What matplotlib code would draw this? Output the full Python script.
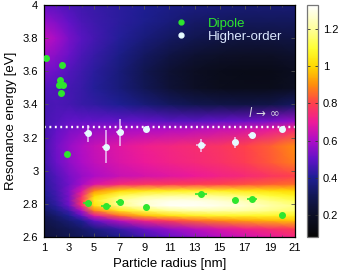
import numpy as np
import matplotlib
matplotlib.use("Agg")
import matplotlib.pyplot as plt
from matplotlib.colors import LinearSegmentedColormap
from matplotlib.lines import Line2D
from matplotlib.ticker import MultipleLocator

plt.rcParams['font.family'] = ['Liberation Sans', 'DejaVu Sans']

# radius columns [nm] and energy rows [eV] of the loss map
radii = [1, 2, 3, 4, 5, 7, 9, 11, 13, 15, 17, 19, 21]
energies = [2.60, 2.65, 2.70, 2.73, 2.76, 2.79, 2.82, 2.85, 2.88, 2.92, 2.97,
            3.05, 3.15, 3.25, 3.30, 3.40, 3.50, 3.60, 3.70, 3.80, 3.90, 4.00]
loss_map = [
    [0.25, 0.27, 0.29, 0.31, 0.33, 0.38, 0.45, 0.50, 0.56, 0.61, 0.65, 0.69, 0.73],
    [0.26, 0.28, 0.30, 0.33, 0.37, 0.44, 0.51, 0.57, 0.62, 0.67, 0.71, 0.75, 0.79],
    [0.28, 0.31, 0.35, 0.40, 0.50, 0.62, 0.72, 0.79, 0.85, 0.89, 0.92, 0.95, 0.97],
    [0.30, 0.34, 0.40, 0.50, 0.68, 0.85, 0.96, 1.02, 1.06, 1.08, 1.08, 1.08, 1.07],
    [0.33, 0.38, 0.45, 0.60, 0.88, 1.04, 1.13, 1.19, 1.22, 1.22, 1.21, 1.18, 1.15],
    [0.36, 0.42, 0.51, 0.74, 1.02, 1.18, 1.27, 1.32, 1.32, 1.30, 1.27, 1.22, 1.18],
    [0.38, 0.44, 0.53, 0.78, 1.06, 1.20, 1.27, 1.30, 1.30, 1.27, 1.23, 1.18, 1.13],
    [0.40, 0.45, 0.53, 0.74, 1.00, 1.13, 1.18, 1.20, 1.20, 1.18, 1.15, 1.11, 1.07],
    [0.41, 0.46, 0.54, 0.68, 0.90, 1.00, 1.04, 1.06, 1.07, 1.06, 1.04, 1.02, 1.00],
    [0.42, 0.47, 0.52, 0.59, 0.67, 0.74, 0.77, 0.78, 0.79, 0.80, 0.82, 0.84, 0.86],
    [0.43, 0.48, 0.53, 0.57, 0.60, 0.64, 0.66, 0.68, 0.70, 0.72, 0.74, 0.77, 0.80],
    [0.45, 0.51, 0.56, 0.60, 0.63, 0.67, 0.70, 0.72, 0.74, 0.76, 0.79, 0.83, 0.88],
    [0.46, 0.52, 0.57, 0.61, 0.64, 0.68, 0.71, 0.73, 0.75, 0.77, 0.80, 0.84, 0.90],
    [0.46, 0.50, 0.53, 0.55, 0.57, 0.59, 0.60, 0.61, 0.62, 0.64, 0.66, 0.69, 0.74],
    [0.46, 0.48, 0.50, 0.50, 0.50, 0.50, 0.50, 0.49, 0.49, 0.50, 0.51, 0.53, 0.57],
    [0.46, 0.47, 0.46, 0.44, 0.43, 0.40, 0.36, 0.32, 0.29, 0.28, 0.27, 0.28, 0.32],
    [0.48, 0.48, 0.46, 0.44, 0.41, 0.36, 0.30, 0.24, 0.20, 0.17, 0.16, 0.16, 0.19],
    [0.53, 0.51, 0.48, 0.45, 0.42, 0.36, 0.29, 0.23, 0.19, 0.16, 0.15, 0.15, 0.18],
    [0.58, 0.55, 0.51, 0.47, 0.44, 0.38, 0.32, 0.27, 0.23, 0.21, 0.20, 0.20, 0.22],
    [0.63, 0.59, 0.53, 0.49, 0.46, 0.41, 0.36, 0.32, 0.29, 0.27, 0.26, 0.26, 0.27],
    [0.57, 0.54, 0.50, 0.47, 0.45, 0.42, 0.39, 0.36, 0.33, 0.32, 0.31, 0.31, 0.31],
    [0.50, 0.49, 0.47, 0.45, 0.44, 0.42, 0.40, 0.38, 0.37, 0.36, 0.35, 0.35, 0.35],
]

# dipole peaks
dip_r = [1.2, 2.45, 2.25, 2.17, 2.54, 2.38, 2.86, 4.48, 5.94, 7.06, 9.15, 13.51, 16.22, 17.57, 19.99]
dip_e = [3.68, 3.64, 3.55, 3.52, 3.52, 3.47, 3.10, 2.807, 2.785, 2.81, 2.78, 2.858, 2.821, 2.831, 2.734]
dip_rerr = [0, 0.2, 0, 0, 0, 0, 0.2, 0.35, 0.4, 0.35, 0.2, 0.45, 0.2, 0.4, 0.2]
dip_eerr = [0, 0.015, 0, 0, 0, 0, 0.012, 0.008, 0.012, 0.008, 0.006, 0.01, 0.006, 0.008, 0.005]

# higher-order peaks
ho_r = [4.48, 5.91, 7.06, 9.15, 13.5, 16.2, 17.57, 20.0]
ho_e = [3.226, 3.145, 3.232, 3.254, 3.153, 3.171, 3.214, 3.25]
ho_rerr = [0.3, 0.3, 0.3, 0.2, 0.4, 0.2, 0.35, 0.2]
ho_eerr = [0.053, 0.1, 0.08, 0.01, 0.04, 0.035, 0.015, 0.015]

limit_e = 3.266

DIP_COL = '#2ee62e'
HO_COL = '#e6fbff'

cmap = LinearSegmentedColormap.from_list("eels", [
    (0.00, (0.02, 0.02, 0.02)),
    (0.096, (0.05, 0.06, 0.15)),
    (0.176, (0.07, 0.09, 0.33)),
    (0.256, (0.12, 0.12, 0.58)),
    (0.336, (0.38, 0.07, 0.78)),
    (0.416, (0.68, 0.05, 0.78)),
    (0.496, (0.93, 0.10, 0.60)),
    (0.576, (1.00, 0.25, 0.30)),
    (0.656, (1.00, 0.55, 0.05)),
    (0.736, (1.00, 0.85, 0.00)),
    (0.816, (1.00, 1.00, 0.20)),
    (0.896, (1.00, 1.00, 0.60)),
    (1.00, (1.00, 1.00, 1.00)),
])

fig = plt.figure(figsize=(3.43, 2.77), dpi=100)
ax = fig.add_axes([0.128, 0.144, 0.732, 0.838])
cax = fig.add_axes([0.895, 0.144, 0.032, 0.838])

mesh = ax.pcolormesh(radii, energies, np.array(loss_map), cmap=cmap,
                     vmin=0.08, vmax=1.33, shading='gouraud', rasterized=True)

ax.axhline(limit_e, color='white', lw=1.7, ls=(0, (0.8, 1.5)))
ax.text(18.5, 3.35, r'$l\,\rightarrow\,\infty$', color='#d8d8e0',
        fontsize=8.5, ha='center', va='center')

ax.errorbar(dip_r, dip_e, xerr=dip_rerr, yerr=dip_eerr, fmt='o', ms=4,
            color=DIP_COL, ecolor=DIP_COL, elinewidth=1.2, capsize=0, zorder=4)
ax.errorbar(ho_r, ho_e, xerr=ho_rerr, yerr=ho_eerr, fmt='o', ms=4,
            color=HO_COL, ecolor=(0.95, 0.85, 1.0, 0.75), elinewidth=1.3,
            capsize=0, zorder=4)

handles = [Line2D([], [], ls='none', marker='o', ms=3.5, color=DIP_COL),
           Line2D([], [], ls='none', marker='o', ms=3.5, color=HO_COL)]
ax.legend(handles, ['Dipole', 'Higher-order'], loc='upper left',
          bbox_to_anchor=(0.49, 0.98), frameon=False, fontsize=9.5,
          handlelength=1.0, handletextpad=1.5, labelspacing=0.05,
          borderaxespad=0.2, labelcolor=[DIP_COL, '#dce8ff'])

ax.set_xlim(1, 21)
ax.set_ylim(2.6, 4.0)
ax.set_xticks(range(1, 22, 2))
ax.xaxis.set_minor_locator(MultipleLocator(1))
ax.set_yticks(np.arange(2.6, 4.01, 0.2))
ax.set_yticklabels(['2.6', '2.8', '3', '3.2', '3.4', '3.6', '3.8', '4'])
ax.tick_params(direction='in', top=True, right=True, length=3, width=0.6,
               labelsize=8, color='#555555', pad=4)
ax.tick_params(which='minor', direction='in', top=True, length=1.5, width=0.5,
               color='#555555')
ax.set_xlabel('Particle radius [nm]', fontsize=9.5, labelpad=4)
ax.set_ylabel('Resonance energy [eV]', fontsize=9.5, labelpad=4)
for s in ax.spines.values():
    s.set_linewidth(0.9)

cb = fig.colorbar(mesh, cax=cax)
cb.set_ticks([0.2, 0.4, 0.6, 0.8, 1.0, 1.2])
cb.set_ticklabels(['0.2', '0.4', '0.6', '0.8', '1', '1.2'])
cax.tick_params(direction='in', length=2, width=0.6, labelsize=8,
                color='#333333', left=True)
cb.outline.set_edgecolor('#777777')
cb.outline.set_linewidth(0.9)

fig.savefig('out.png', dpi=100)
